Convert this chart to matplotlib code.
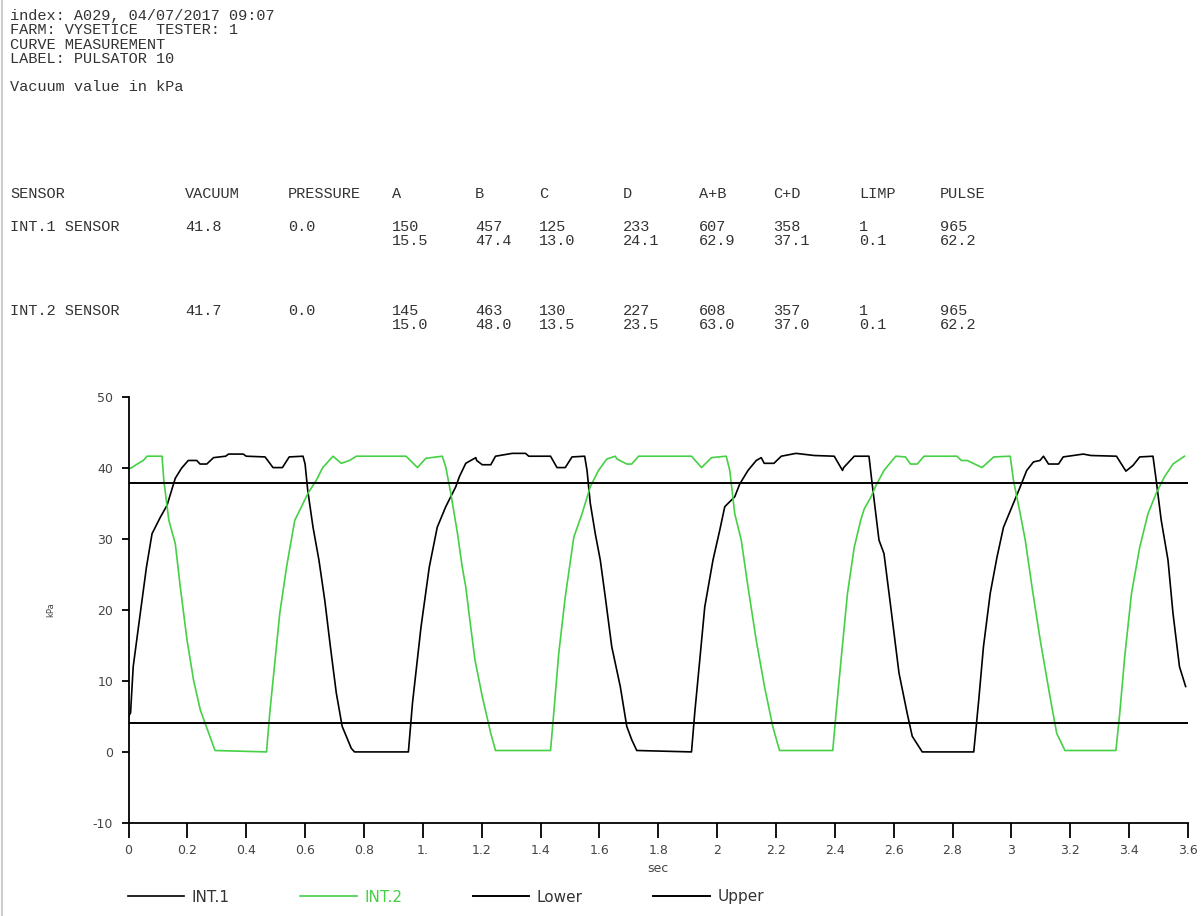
import matplotlib
matplotlib.use("Agg")
import matplotlib.pyplot as plt
from matplotlib.lines import Line2D

plt.rcParams["axes.unicode_minus"] = False

# header lines of the report
header_lines = ["index: A029, 04/07/2017 09:07", "FARM: VYSETICE  TESTER: 1",
                "CURVE MEASUREMENT", "LABEL: PULSATOR 10"]
units_line = "Vacuum value in kPa"

# sensor table
table_cols = ["SENSOR", "VACUUM", "PRESSURE", "A", "B", "C", "D", "A+B", "C+D", "LIMP", "PULSE"]
row1_ms = ["INT.1 SENSOR", "41.8", "0.0", "150", "457", "125", "233", "607", "358", "1", "965"]
row1_pct = ["", "", "", "15.5", "47.4", "13.0", "24.1", "62.9", "37.1", "0.1", "62.2"]
row2_ms = ["INT.2 SENSOR", "41.7", "0.0", "145", "463", "130", "227", "608", "357", "1", "965"]
row2_pct = ["", "", "", "15.0", "48.0", "13.5", "23.5", "63.0", "37.0", "0.1", "62.2"]

# curve INT.1 (sec, kPa)
t1 = [0.0, 0.007, 0.016, 0.04, 0.061, 0.08, 0.108, 0.131, 0.159, 0.18, 0.203, 0.232, 0.243,
      0.266, 0.289, 0.33, 0.34, 0.39, 0.40, 0.464, 0.491, 0.523, 0.546, 0.593, 0.60, 0.609,
      0.627, 0.647, 0.667, 0.686, 0.706, 0.726, 0.757, 0.768, 0.951, 0.965, 0.994, 1.022,
      1.049, 1.078, 1.112, 1.124, 1.146, 1.18, 1.183, 1.202, 1.231, 1.247, 1.304, 1.349,
      1.36, 1.434, 1.456, 1.484, 1.507, 1.55, 1.558, 1.569, 1.586, 1.603, 1.62, 1.642,
      1.671, 1.693, 1.71, 1.727, 1.913, 1.924, 1.941, 1.958, 1.986, 2.009, 2.026, 2.06,
      2.077, 2.105, 2.133, 2.15, 2.16, 2.193, 2.218, 2.268, 2.33, 2.398, 2.426, 2.43, 2.466,
      2.516, 2.526, 2.55, 2.567, 2.59, 2.618, 2.646, 2.663, 2.697, 2.872, 2.889, 2.905,
      2.928, 2.951, 2.973, 3.002, 3.03, 3.052, 3.075, 3.097, 3.109, 3.126, 3.16, 3.176,
      3.244, 3.27, 3.357, 3.389, 3.413, 3.436, 3.481, 3.492, 3.509, 3.532, 3.549, 3.571, 3.592]
v1 = [5.0, 5.5, 12.0, 19.5, 26.0, 30.7, 33.0, 34.7, 38.5, 39.9, 41.0, 41.0, 40.5,
      40.5, 41.4, 41.6, 41.9, 41.9, 41.6, 41.5, 40.0, 40.0, 41.5, 41.6, 40.5, 36.8,
      31.6, 27.0, 21.3, 14.8, 8.3, 3.6, 0.5, 0.0, 0.0, 6.9, 17.6, 26.0,
      31.6, 34.5, 37.3, 38.7, 40.6, 41.4, 41.0, 40.4, 40.4, 41.6, 42.0, 42.0,
      41.6, 41.6, 40.0, 40.0, 41.5, 41.6, 39.6, 35.0, 30.7, 27.0, 21.8, 14.8,
      9.2, 3.6, 1.7, 0.2, 0.0, 5.5, 12.9, 20.4, 27.0, 31.2, 34.5, 35.9,
      37.7, 39.6, 41.0, 41.4, 40.6, 40.6, 41.6, 42.0, 41.7, 41.6, 39.6, 40.0, 41.6,
      41.6, 38.0, 29.8, 27.9, 20.4, 11.1, 5.4, 2.2, 0.0, 0.0, 7.3, 14.8,
      22.3, 27.4, 31.6, 34.5, 37.3, 39.6, 40.8, 41.0, 41.6, 40.5, 40.5, 41.5,
      41.9, 41.7, 41.6, 39.5, 40.3, 41.5, 41.6, 38.2, 32.6, 27.0, 19.5, 12.0, 9.2]

# curve INT.2 (sec, kPa)
t2 = [0.0, 0.007, 0.03, 0.05, 0.063, 0.114, 0.12, 0.137, 0.159, 0.176, 0.199, 0.221, 0.244,
      0.272, 0.294, 0.469, 0.48, 0.497, 0.514, 0.537, 0.565, 0.582, 0.61, 0.638, 0.66,
      0.695, 0.723, 0.751, 0.774, 0.943, 0.982, 1.01, 1.066, 1.078, 1.095, 1.118, 1.134,
      1.146, 1.16, 1.177, 1.202, 1.231, 1.247, 1.434, 1.445, 1.462, 1.484, 1.513, 1.541,
      1.569, 1.597, 1.625, 1.654, 1.66, 1.693, 1.71, 1.733, 1.913, 1.947, 1.981, 2.031,
      2.043, 2.06, 2.082, 2.105, 2.133, 2.161, 2.189, 2.212, 2.393, 2.404, 2.421, 2.443,
      2.466, 2.488, 2.5, 2.522, 2.54, 2.567, 2.607, 2.64, 2.657, 2.68, 2.703, 2.815, 2.83,
      2.85, 2.9, 2.94, 2.996, 3.007, 3.03, 3.047, 3.07, 3.098, 3.131, 3.154, 3.182, 3.355,
      3.368, 3.385, 3.408, 3.436, 3.464, 3.492, 3.52, 3.549, 3.588]
v2 = [40.0, 39.9, 40.5, 41.0, 41.6, 41.6, 38.2, 32.6, 29.3, 23.2, 15.7, 10.1, 5.9,
      2.7, 0.2, 0.0, 5.5, 12.5, 19.5, 26.0, 32.6, 34.0, 36.4, 38.2, 40.0,
      41.6, 40.6, 41.0, 41.6, 41.6, 40.0, 41.3, 41.6, 40.1, 36.4, 30.7, 26.0,
      23.2, 18.5, 13.0, 7.8, 2.6, 0.2, 0.2, 5.5, 13.9, 21.8, 30.2, 33.5,
      37.3, 39.6, 41.2, 41.6, 41.2, 40.5, 40.5, 41.6, 41.6, 40.0, 41.4, 41.6,
      39.6, 33.5, 29.8, 23.2, 15.7, 9.2, 3.6, 0.2, 0.2, 5.4, 12.9, 22.3,
      28.8, 32.6, 34.2, 35.8, 37.5, 39.6, 41.6, 41.5, 40.5, 40.5, 41.6, 41.6, 41.0,
      41.0, 40.0, 41.5, 41.6, 38.2, 33.5, 29.8, 23.2, 15.7, 7.8, 2.6, 0.2, 0.2,
      5.4, 13.4, 22.3, 28.8, 33.5, 36.4, 38.7, 40.5, 41.6]

lower_limit = 4.0
upper_limit = 37.8

x_ticks = [0, 0.2, 0.4, 0.6, 0.8, 1.0, 1.2, 1.4, 1.6, 1.8, 2.0, 2.2, 2.4, 2.6, 2.8, 3.0, 3.2, 3.4, 3.6]
x_tick_labels = ["0", "0.2", "0.4", "0.6", "0.8", "1.", "1.2", "1.4", "1.6", "1.8", "2",
                 "2.2", "2.4", "2.6", "2.8", "3", "3.2", "3.4", "3.6"]
y_ticks = [-10, 0, 10, 20, 30, 40, 50]

W, H = 1203, 916
GREEN = "#45d045"
TXT = "#333333"
MONO = "Liberation Mono"

fig = plt.figure(figsize=(W / 100, H / 100), dpi=100)
fig.patch.set_facecolor("white")


def put(xpx, ypx, s, **kw):
    fig.text(xpx / W, 1 - ypx / H, s, family=MONO, fontsize=11, color=TXT, va="center", ha="left", **kw)


for i, line in enumerate(header_lines):
    put(10, 16 + i * 14.3, line)
put(10, 87, units_line)

col_x = [10, 185, 288, 392, 475, 539, 623, 699, 773, 859, 940]
for x, c, a, b, d, e in zip(col_x, table_cols, row1_ms, row1_pct, row2_ms, row2_pct):
    put(x, 194, c)
    put(x, 227, a)
    put(x, 241, b)
    put(x, 311, d)
    put(x, 325, e)

# thin grey edge from the screenshot
fig.add_artist(Line2D([2 / W, 2 / W], [0, 1], color="#cccccc", lw=1.5, transform=fig.transFigure))

ax = fig.add_axes([128.5 / W, 93 / H, (1188 - 128.5) / W, (823 - 396.5) / H])
ax.plot(t1, v1, color="black", lw=1.2, label="INT.1")
ax.plot(t2, v2, color=GREEN, lw=1.2, label="INT.2")
ax.plot([x_ticks[0], x_ticks[-1]], [lower_limit, lower_limit], color="black", lw=1.4, label="Lower")
ax.plot([x_ticks[0], x_ticks[-1]], [upper_limit, upper_limit], color="black", lw=1.4, label="Upper")

ax.set_xlim(0, 3.6)
ax.set_ylim(-10, 50)
ax.set_xticks(x_ticks)
ax.set_xticklabels(x_tick_labels)
ax.set_yticks(y_ticks)
for s in ["top", "right"]:
    ax.spines[s].set_visible(False)
for s in ["left", "bottom"]:
    ax.spines[s].set_linewidth(1.3)
ax.tick_params(axis="x", length=11, width=1.3, pad=4, labelsize=9, labelcolor="#444444")
ax.tick_params(axis="y", length=5, width=1.3, pad=6, labelsize=9, labelcolor="#444444")
ax.set_xlabel("sec", fontsize=9, color="#444444", labelpad=4)
ax.set_ylabel("kPa", fontsize=6, color="#444444", labelpad=27)

leg = fig.legend(loc="center left", bbox_to_anchor=(114 / W, 1 - 897 / H), ncol=4, frameon=False,
                 handlelength=3.7, columnspacing=4.6, handletextpad=0.5, fontsize=11)
for txt, col in zip(leg.get_texts(), ["#333333", GREEN, "#333333", "#333333"]):
    txt.set_color(col)

fig.savefig("out.png", dpi=100, facecolor="white")
